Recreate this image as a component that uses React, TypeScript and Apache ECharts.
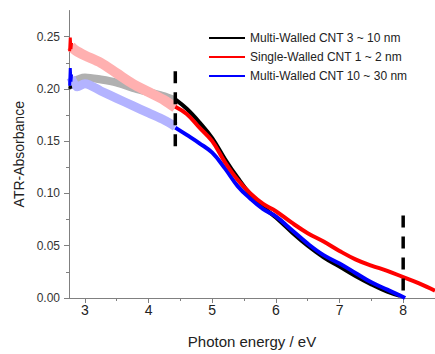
import React, { useEffect, useRef } from "react";
import * as echarts from "echarts";

// ---- data ----
const xMajorTicks = [3, 4, 5, 6, 7, 8];
const xMinorTicks = [3.5, 4.5, 5.5, 6.5, 7.5];
const yMajorTicks = [0, 0.05, 0.1, 0.15, 0.2, 0.25];
const yMinorTicks = [0.025, 0.075, 0.125, 0.175, 0.225];

const legendNames = [
  "Multi-Walled CNT 3 ~ 10 nm",
  "Single-Walled CNT 1 ~ 2 nm",
  "Multi-Walled CNT 10 ~ 30 nm",
];

// faded (noisy) low-energy parts
const grayFaded = [
  [2.78, 0.206], [3.0, 0.211], [3.25, 0.209], [3.5, 0.206], [3.75, 0.201],
  [4.0, 0.197], [4.25, 0.193], [4.42, 0.189],
];
const pinkFaded = [
  [2.78, 0.241], [2.85, 0.237], [3.0, 0.232], [3.25, 0.225], [3.5, 0.215],
  [3.75, 0.205], [4.0, 0.197], [4.25, 0.189], [4.42, 0.182],
];
const lightBlueFaded = [
  [2.78, 0.211], [2.88, 0.202], [3.0, 0.205], [3.25, 0.198], [3.5, 0.191],
  [3.75, 0.184], [4.0, 0.177], [4.25, 0.17], [4.42, 0.164],
];

// short saturated stubs at the left edge
const blackStub = [[2.76, 0.2], [2.77, 0.203], [2.78, 0.2]];
const redStub = [[2.76, 0.236], [2.77, 0.249], [2.78, 0.238], [2.79, 0.244]];
const blueStub = [[2.76, 0.203], [2.77, 0.22], [2.78, 0.207], [2.79, 0.214]];

// saturated high-energy parts
const blackMain = [
  [4.42, 0.19], [4.6, 0.181], [4.8, 0.168], [5.0, 0.153], [5.2, 0.133],
  [5.4, 0.115], [5.6, 0.099], [5.8, 0.087], [6.0, 0.077], [6.25, 0.063],
  [6.5, 0.05], [6.75, 0.039], [7.0, 0.03], [7.25, 0.021], [7.5, 0.013],
  [7.75, 0.006], [7.95, 0.002],
];
const redMain = [
  [4.42, 0.183], [4.6, 0.176], [4.8, 0.163], [5.0, 0.15], [5.2, 0.13],
  [5.4, 0.113], [5.6, 0.1], [5.8, 0.09], [6.0, 0.083], [6.25, 0.072],
  [6.5, 0.062], [6.75, 0.054], [7.0, 0.045], [7.25, 0.037], [7.5, 0.031],
  [7.75, 0.026], [8.0, 0.02], [8.25, 0.014], [8.5, 0.007],
];
const blueMain = [
  [4.42, 0.163], [4.6, 0.156], [4.8, 0.148], [5.0, 0.139], [5.2, 0.124],
  [5.4, 0.107], [5.6, 0.095], [5.8, 0.085], [6.0, 0.078], [6.25, 0.065],
  [6.5, 0.052], [6.75, 0.041], [7.0, 0.033], [7.25, 0.024], [7.5, 0.015],
  [7.75, 0.008], [8.0, 0.001], [8.03, 0.0],
];

const dashLeft = [[4.42, 0.217], [4.42, 0.142]];
const dashRight = [[8.0, 0.079], [8.0, 0.003]];

const FONT = "'Liberation Sans', Arial, sans-serif";
const AXIS_GRAY = "#808080";

export default function App() {
  const ref = useRef<HTMLDivElement>(null);

  useEffect(() => {
    if (!ref.current) return;
    const chart = echarts.init(ref.current, undefined, { renderer: "svg" });

    const line = (
      name: string,
      data: number[][],
      color: string,
      width: number,
      extra: any = {}
    ) => ({
      name,
      type: "line",
      data,
      xAxisIndex: 0,
      yAxisIndex: 0,
      showSymbol: false,
      symbol: "none",
      silent: true,
      smooth: extra.smooth ?? false,
      lineStyle: { color, width, ...(extra.lineStyle || {}) },
      itemStyle: { color },
      z: extra.z ?? 2,
    });

    const option: any = {
      animation: false,
      grid: { left: 69, right: 0, top: 10.5, bottom: 54.7, containLabel: false },
      legend: {
        data: legendNames,
        orient: "vertical",
        left: 204,
        top: 27,
        itemWidth: 36,
        itemHeight: 14,
        itemGap: 7,
        icon: "path://M0,6 L36,6 L36,8 L0,8 Z",
        textStyle: { fontFamily: FONT, fontSize: 12, color: "#222" },
        selectedMode: false,
      },
      xAxis: [
        {
          type: "value",
          min: 2.75,
          max: 8.5,
          position: "bottom",
          name: "Photon energy / eV",
          nameLocation: "middle",
          nameGap: 36,
          nameTextStyle: { fontFamily: FONT, fontSize: 15, color: "#222" },
          axisLine: { show: true, lineStyle: { color: AXIS_GRAY, width: 1 } },
          axisTick: {
            show: true,
            inside: false,
            length: 5,
            customValues: xMajorTicks,
            lineStyle: { color: AXIS_GRAY },
          },
          axisLabel: {
            customValues: xMajorTicks,
            margin: 5,
            fontFamily: FONT,
            fontSize: 14,
            color: "#222",
          },
          splitLine: { show: false },
        },
        {
          type: "value",
          min: 2.75,
          max: 8.5,
          position: "bottom",
          offset: 0,
          axisLine: { show: false },
          axisTick: {
            show: true,
            inside: false,
            length: 3,
            customValues: xMinorTicks,
            lineStyle: { color: AXIS_GRAY },
          },
          axisLabel: { show: false },
          splitLine: { show: false },
        },
      ],
      yAxis: [
        {
          type: "value",
          min: 0,
          max: 0.275,
          position: "left",
          name: "ATR-Absorbance",
          nameLocation: "middle",
          nameRotate: 90,
          nameGap: 37,
          nameTextStyle: { fontFamily: FONT, fontSize: 14, color: "#222" },
          axisLine: { show: true, lineStyle: { color: AXIS_GRAY, width: 1 } },
          axisTick: {
            show: true,
            inside: false,
            length: 5,
            customValues: yMajorTicks,
            lineStyle: { color: AXIS_GRAY },
          },
          axisLabel: {
            customValues: yMajorTicks,
            margin: 9,
            fontFamily: FONT,
            fontSize: 12,
            color: "#333",
            formatter: (v: number) => v.toFixed(2),
          },
          splitLine: { show: false },
        },
        {
          type: "value",
          min: 0,
          max: 0.275,
          position: "left",
          offset: 0,
          axisLine: { show: false },
          axisTick: {
            show: true,
            inside: false,
            length: 3,
            customValues: yMinorTicks,
            lineStyle: { color: AXIS_GRAY },
          },
          axisLabel: { show: false },
          splitLine: { show: false },
        },
      ],
      series: [
        line("faded-gray", grayFaded, "#b0b0b0", 8, { smooth: 0.3 }),
        line("faded-blue", lightBlueFaded, "#b3b3ff", 9, { smooth: 0.3 }),
        line("faded-pink", pinkFaded, "#ffb0b0", 10, { smooth: 0.3 }),
        line("stub-black", blackStub, "#000000", 3),
        line("stub-blue", blueStub, "#0000ff", 3),
        line("stub-red", redStub, "#ff0000", 3),
        line(legendNames[0], blackMain, "#000000", 4, { smooth: 0.4 }),
        line(legendNames[2], blueMain, "#0000ff", 4, { smooth: 0.4 }),
        line(legendNames[1], redMain, "#ff0000", 4, { smooth: 0.4 }),
        line("dash-left", dashLeft, "#000000", 3.5, {
          lineStyle: { type: [12, 9] },
          z: 5,
        }),
        line("dash-right", dashRight, "#000000", 3.5, {
          lineStyle: { type: [12, 9] },
          z: 5,
        }),
      ],
    };

    chart.setOption(option);
    return () => chart.dispose();
  }, []);

  return (
    <div
      ref={ref}
      style={{
        position: "fixed",
        left: 0,
        top: 0,
        width: 435,
        height: 354,
        background: "#fff",
      }}
    />
  );
}
